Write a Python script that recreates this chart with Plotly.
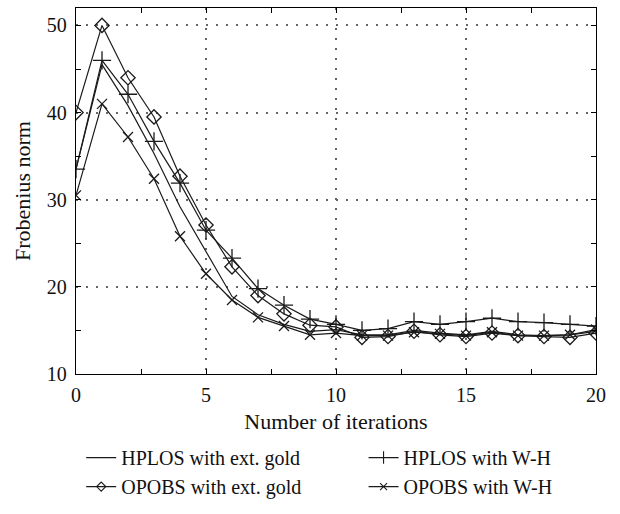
import plotly.graph_objects as go

iterations = list(range(0, 21))
hplos_ext_gold = [33.5, 45.5, 40.8, 35.3, 29.2, 24.0, 18.9, 16.8, 15.7, 14.9, 15.1,
                  14.5, 14.5, 15.0, 14.7, 14.5, 14.9, 14.5, 14.4, 14.5, 14.9]
hplos_wh = [33.5, 46.0, 42.1, 36.7, 31.9, 26.5, 23.3, 19.8, 17.9, 16.3, 15.7,
            15.0, 15.2, 16.0, 15.7, 16.0, 16.4, 16.0, 15.9, 15.7, 15.5]
opobs_ext_gold = [40.0, 50.0, 44.0, 39.5, 32.7, 27.1, 22.3, 19.0, 16.9, 15.6, 15.4,
                  14.2, 14.3, 14.9, 14.5, 14.3, 14.7, 14.4, 14.3, 14.2, 14.7]
opobs_wh = [30.5, 41.0, 37.2, 32.4, 25.8, 21.5, 18.5, 16.5, 15.5, 14.5, 14.7,
            14.4, 14.4, 14.8, 14.6, 14.4, 14.8, 14.4, 14.4, 14.5, 15.1]

names = ["HPLOS with ext. gold", "HPLOS with W-H",
         "OPOBS with ext. gold", "OPOBS with W-H"]
x_ticks = [0, 5, 10, 15, 20]
y_ticks = [10, 20, 30, 40, 50]

C = "#1a1a1a"
FONT = "Liberation Serif"

series = [hplos_ext_gold, hplos_wh, opobs_ext_gold, opobs_wh]
symbols = [None, "cross-thin-open", "diamond-open", "x-thin-open"]
plot_sizes = [0, 13, 11, 10]
legend_sizes = [0, 9, 7, 7]
legend_ids = ["legend", "legend2", "legend", "legend2"]

fig = go.Figure()
for name, ys, sym, ps in zip(names, series, symbols, plot_sizes):
    if sym is None:
        fig.add_trace(go.Scatter(x=iterations, y=ys, name=name, mode="lines",
                                 line=dict(color=C, width=1.2), showlegend=False))
    else:
        fig.add_trace(go.Scatter(x=iterations, y=ys, name=name, mode="lines+markers",
                                 line=dict(color=C, width=1.2), showlegend=False,
                                 marker=dict(symbol=sym, size=ps, color=C,
                                             line=dict(color=C, width=1.3))))

# legend entries (smaller symbols, like the reference key), in two columns
for name, sym, ls, lg in zip(names, symbols, legend_sizes, legend_ids):
    if sym is None:
        fig.add_trace(go.Scatter(x=[None], y=[None], name=name, mode="lines",
                                 legend=lg, line=dict(color=C, width=1.2)))
    else:
        fig.add_trace(go.Scatter(x=[None], y=[None], name=name, mode="lines+markers",
                                 legend=lg, line=dict(color=C, width=1.2),
                                 marker=dict(symbol=sym, size=ls, color=C,
                                             line=dict(color=C, width=1.1))))

axis_common = dict(
    showline=True, linecolor="black", linewidth=1.3, mirror="allticks",
    ticks="inside", ticklen=5, tickcolor="black", tickwidth=1,
    showgrid=True, gridcolor="#666", griddash="2px,8px", gridwidth=1.5,
    zeroline=False,
    tickfont=dict(family=FONT, size=20, color="#111"),
)

fig.update_xaxes(**axis_common, range=[0, 20], tickvals=x_ticks,
                 ticklabelstandoff=3,
                 minor=dict(dtick=2.5, ticks="inside", ticklen=5, tickcolor="black",
                            showgrid=False),
                 title=dict(text="Number of iterations",
                            font=dict(family=FONT, size=22, color="#111"), standoff=8))
fig.update_yaxes(**axis_common, range=[10, 52], tickvals=y_ticks,
                 ticklabelstandoff=4,
                 minor=dict(dtick=5, ticks="inside", ticklen=5, tickcolor="black",
                            showgrid=False),
                 title=dict(text="Frobenius norm",
                            font=dict(family=FONT, size=22, color="#111"), standoff=10))

legend_common = dict(orientation="v", xanchor="left", y=-0.175, yanchor="top",
                     font=dict(family=FONT, size=20, color="#111"),
                     itemwidth=30, tracegroupgap=0, bgcolor="rgba(0,0,0,0)")

fig.update_layout(
    width=620, height=514,
    margin=dict(l=76, r=24, t=8, b=140),
    paper_bgcolor="white", plot_bgcolor="white",
    font=dict(family=FONT, color="#111"),
    legend=dict(x=0.01, **legend_common),
    legend2=dict(x=0.553, **legend_common),
    showlegend=True,
)

fig.write_html("out.html")
